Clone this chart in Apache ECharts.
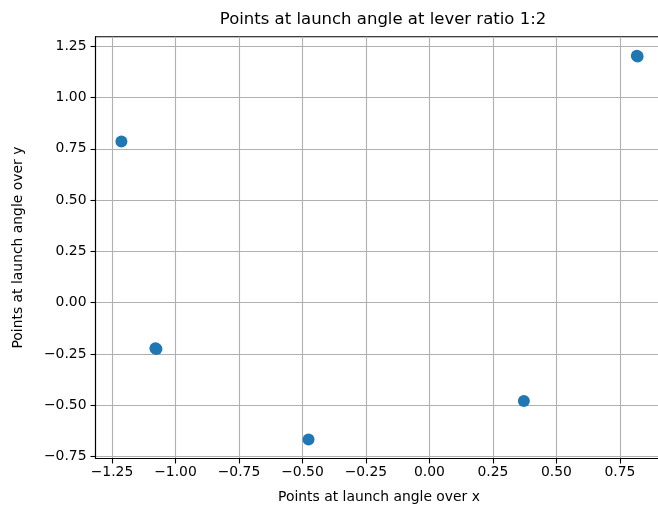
<!DOCTYPE html>
<html>
<head>
<meta charset="utf-8">
<script src="https://cdn.jsdelivr.net/npm/echarts@6/dist/echarts.min.js"></script>
<style>
  html, body { margin: 0; padding: 0; background: #fff; overflow: hidden; }
  #chart { width: 658px; height: 509px; }
</style>
</head>
<body>
<div id="chart"></div>
<script>
var xValues = [-1.213, -1.079, -1.075, -0.476, 0.372, 0.817, 0.820];
var yValues = [0.786, -0.222, -0.226, -0.667, -0.480, 1.204, 1.200];

var xTicks = [-1.25, -1.00, -0.75, -0.50, -0.25, 0.00, 0.25, 0.50, 0.75];
var yTicks = [-0.75, -0.50, -0.25, 0.00, 0.25, 0.50, 0.75, 1.00, 1.25];

var points = [];
for (var i = 0; i < xValues.length; i++) {
    points.push([xValues[i], yValues[i]]);
}

function fmt(v) {
    return v.toFixed(2).replace('-', '\u2212');
}

var font = 'DejaVu Sans';
var myChart = echarts.init(document.getElementById('chart'), null, {renderer: 'canvas'});

var option = {
    animation: false,
    backgroundColor: '#fff',
    title: {
        text: 'Points at launch angle at lever ratio 1:2',
        left: 378,
        textAlign: 'center',
        top: 6,
        textStyle: {
            fontFamily: font,
            fontSize: 16.5,
            fontWeight: 'normal',
            color: '#000'
        }
    },
    grid: {
        left: 95.5,
        top: 36.7,
        width: 567,
        height: 421.8,
        show: true,
        borderColor: '#000',
        borderWidth: 1.1,
        containLabel: false,
        outerBoundsMode: 'none'
    },
    xAxis: {
        type: 'value',
        min: -1.315,
        max: 0.918,
        name: 'Points at launch angle over x',
        nameLocation: 'middle',
        nameGap: 32,
        nameTextStyle: {fontFamily: font, fontSize: 13.9, color: '#000'},
        axisLine: {show: true, onZero: false, lineStyle: {color: '#000', width: 1.1}},
        axisTick: {show: true, length: 5, customValues: xTicks, lineStyle: {color: '#000', width: 1.1}},
        axisLabel: {
            customValues: xTicks,
            margin: 7,
            fontFamily: font,
            fontSize: 13.9,
            color: '#000',
            formatter: fmt
        },
        splitLine: {show: true, lineStyle: {color: '#b0b0b0', width: 1.1}}
    },
    yAxis: {
        type: 'value',
        min: -0.760,
        max: 1.297,
        name: 'Points at launch angle over y',
        nameLocation: 'middle',
        nameGap: 70,
        nameRotate: 90,
        nameTextStyle: {fontFamily: font, fontSize: 13.9, color: '#000'},
        axisLine: {show: true, onZero: false, lineStyle: {color: '#000', width: 1.1}},
        axisTick: {show: true, length: 5, customValues: yTicks, lineStyle: {color: '#000', width: 1.1}},
        axisLabel: {
            customValues: yTicks,
            margin: 9,
            fontFamily: font,
            fontSize: 13.9,
            color: '#000',
            formatter: fmt
        },
        splitLine: {show: true, lineStyle: {color: '#b0b0b0', width: 1.1}}
    },
    series: [
        {
            name: 'points',
            type: 'scatter',
            data: points,
            symbolSize: 12,
            itemStyle: {color: '#1f77b4', opacity: 1}
        }
    ]
};

myChart.setOption(option);
</script>
</body>
</html>
